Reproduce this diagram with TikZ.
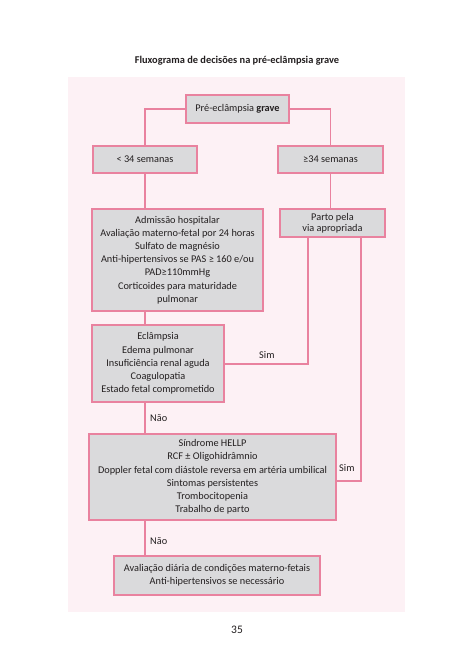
\documentclass[tikz,border=0pt]{standalone}
\usepackage{fontspec}
\setmainfont{Carlito}
\usetikzlibrary{calc}
\definecolor{bgpink}{HTML}{FDF1F5}
\definecolor{boxgray}{HTML}{DADADC}
\definecolor{linepink}{HTML}{E9829F}
\definecolor{txt}{HTML}{231F20}
\tikzset{
  flowbox/.style={draw=linepink, line width=1.5pt, fill=boxgray, align=center,
    inner sep=0pt, font=\fontsize{10.3}{13.2}\selectfont, text=txt},
  conn/.style={draw=linepink, line width=1.5pt},
  lbl/.style={font=\fontsize{10.3}{11}\selectfont, text=txt, inner sep=0pt}
}
\begin{document}
\begin{tikzpicture}[x=1pt,y=-1pt]
\useasboundingbox (0,0) rectangle (474,670);
\fill[white] (0,0) rectangle (474,670);
\fill[bgpink] (68,77) rectangle (405,612);
\node[font=\fontsize{10.4}{12}\selectfont\bfseries, text=txt] (title) at (237,61) {Fluxograma de decisões na pré-eclâmpsia grave};
\node[flowbox, minimum width=103pt, minimum height=28pt] (top) at (237.5,109) {Pré-eclâmpsia \textbf{grave}};
\node[flowbox, minimum width=104pt, minimum height=27pt] (lt) at (145,159.5) {< 34 semanas};
\node[flowbox, minimum width=105pt, minimum height=27pt] (ge) at (330.5,159.5) {≥34 semanas};
\node[flowbox, minimum width=171pt, minimum height=102pt] (adm) at (177.5,260) {Admissão hospitalar\\Avaliação materno-fetal por 24 horas\\Sulfato de magnésio\\Anti-hipertensivos se PAS ≥ 160 e/ou\\PAD≥110mmHg\\Corticoides para maturidade\\pulmonar};
\node[flowbox, minimum width=105pt, minimum height=28pt, font=\fontsize{10.3}{11.5}\selectfont] (parto) at (332.5,223) {Parto pela\\via apropriada};
\node[flowbox, minimum width=132pt, minimum height=77pt] (ecl) at (158,363.5) {Eclâmpsia\\Edema pulmonar\\Insuficiência renal aguda\\Coagulopatia\\Estado fetal comprometido};
\node[flowbox, minimum width=247pt, minimum height=86pt] (hellp) at (212.5,477) {Síndrome HELLP\\RCF ± Oligohidrâmnio\\Doppler fetal com diástole reversa em artéria umbilical\\Sintomas persistentes\\Trombocitopenia\\Trabalho de parto};
\node[flowbox, minimum width=206pt, minimum height=39pt] (final) at (217,575.5) {Avaliação diária de condições materno-fetais\\Anti-hipertensivos se necessário};
\coordinate (pl) at ([xshift=-24.5pt]parto.south);
\coordinate (pr) at ([xshift=28.5pt]parto.south);
\draw[conn] (top.west) -| (lt.north);
\draw[conn] (top.east) -| (ge.north);
\draw[conn] (lt.south) -- (lt.south |- adm.north);
\draw[conn] (ge.south) -- (ge.south |- parto.north);
\draw[conn] (lt.south |- adm.south) -- (lt.south |- ecl.north);
\draw[conn] (lt.south |- ecl.south) -- (lt.south |- hellp.north);
\draw[conn] (lt.south |- hellp.south) -- (lt.south |- final.north);
\draw[conn] ([yshift=-0.5pt]ecl.east) -| (pl);
\draw[conn] ([yshift=-4pt]hellp.east) -| (pr);
\node[lbl, anchor=west] (sim1) at (259,355) {Sim};
\node[lbl, anchor=west] (sim2) at (339,468) {Sim};
\node[lbl, anchor=west] (nao1) at (150,418) {Não};
\node[lbl, anchor=west] (nao2) at (150,541) {Não};
\node[font=\fontsize{11.5}{13}\selectfont, text=txt] (page) at (237,630) {35};
\end{tikzpicture}
\end{document}
